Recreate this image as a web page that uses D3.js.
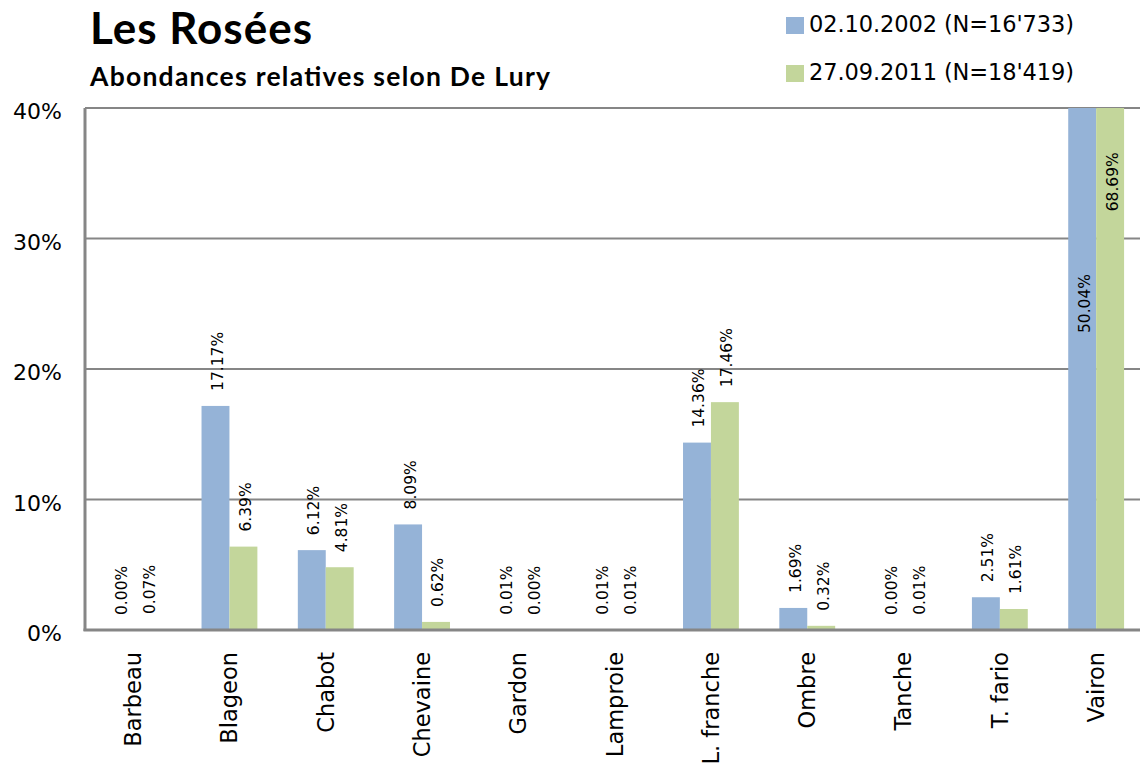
<!DOCTYPE html>
<html><head><meta charset="utf-8">
<script src="https://cdn.jsdelivr.net/npm/d3@7"></script>
<style>body{margin:0;background:#fff}svg{display:block}</style>
</head><body>
<svg id="c" width="1140" height="765"></svg>
<script>
const categories = ["Barbeau","Blageon","Chabot","Chevaine","Gardon","Lamproie","L. franche","Ombre","Tanche","T. fario","Vairon"];
const series2002 = [0.00,17.17,6.12,8.09,0.01,0.01,14.36,1.69,0.00,2.51,50.04];
const series2011 = [0.07,6.39,4.81,0.62,0.00,0.01,17.46,0.32,0.01,1.61,68.69];
const seriesNames = ["02.10.2002 (N=16'733)","27.09.2011 (N=18'419)"];
const yTicks = [0,10,20,30,40];
const title = "Les Rosées";
const subtitle = "Abondances relatives selon De Lury";

(function(){
const colors = ["#95B3D7","#C3D69B"];
const svg = d3.select("#c");
const mLeft = 85, mTop = 108, mBottom = 630, bandW = 96.3;
const mRight = mLeft + bandW*categories.length;

const x = d3.scaleBand().domain(categories).range([mLeft,mRight]).paddingInner(0.42).paddingOuter(0.21);
const xs = d3.scaleBand().domain([0,1]).range([0,x.bandwidth()]);
const y = d3.scaleLinear().domain([0,40]).range([mBottom,mTop]);

// gridlines
svg.append("g").selectAll("line").data(yTicks.filter(t=>t>0)).join("line")
  .attr("x1",mLeft).attr("x2",1140).attr("y1",d=>y(d)).attr("y2",d=>y(d))
  .attr("stroke","#868686").attr("stroke-width",2);

// y tick labels
svg.append("g").selectAll("text").data(yTicks).join("text")
  .attr("x",62).attr("y",d=>y(d)).attr("dy","0.5em")
  .attr("text-anchor","end").attr("font-family","DejaVu Sans").attr("font-size",22)
  .attr("fill","#000").text(d=>d+"%");

const data = categories.map((c,i)=>({c, vals:[series2002[i],series2011[i]]}));

const groups = svg.append("g").selectAll("g").data(data).join("g")
  .attr("transform",d=>`translate(${x(d.c)},0)`);
groups.selectAll("rect").data(d=>d.vals.map((v,k)=>({v,k}))).join("rect")
  .attr("x",d=>xs(d.k)).attr("width",xs.bandwidth())
  .attr("y",d=>y(Math.min(d.v,40))).attr("height",d=>mBottom - y(Math.min(d.v,40)))
  .attr("fill",(d)=>colors[d.k]);

// value labels
groups.selectAll("text").data(d=>d.vals.map((v,k)=>({v,k}))).join("text")
  .attr("transform",d=>{
    const cx = xs(d.k)+xs.bandwidth()/2 + 2;
    if (d.v > 40) return `translate(${cx},${y(d.v/2)}) rotate(-90)`;
    return `translate(${cx},${y(d.v)-15}) rotate(-90)`;
  })
  .attr("text-anchor",d=>d.v>40?"middle":"start")
  .attr("dy","0.35em")
  .attr("font-family","DejaVu Sans").attr("font-size",15.5).attr("fill","#000")
  .text(d=>d.v.toFixed(2)+"%");

// axes lines
svg.append("line").attr("x1",mLeft).attr("x2",mLeft).attr("y1",mTop).attr("y2",mBottom+1)
  .attr("stroke","#868686").attr("stroke-width",3);
svg.append("line").attr("x1",mLeft-1.5).attr("x2",1140).attr("y1",mBottom).attr("y2",mBottom)
  .attr("stroke","#868686").attr("stroke-width",3);

// category labels
svg.append("g").selectAll("text").data(categories).join("text")
  .attr("transform",d=>`translate(${x(d)+x.bandwidth()/2},652) rotate(-90)`)
  .attr("text-anchor","end").attr("dy","0.35em")
  .attr("font-family","DejaVu Sans").attr("font-size",22.5).attr("fill","#000")
  .text(d=>d);

// title
svg.append("text").attr("x",90).attr("y",44).attr("font-family","Lato").attr("font-weight","bold")
  .attr("font-size",44).attr("fill","#000")
  .attr("textLength",222).attr("lengthAdjust","spacing").text(title);
svg.append("text").attr("x",90).attr("y",86).attr("font-family","Lato").attr("font-weight","bold")
  .attr("font-size",26.5).attr("fill","#000")
  .attr("textLength",460).attr("lengthAdjust","spacing").text(subtitle);

// legend
const lg = svg.append("g").selectAll("g").data(seriesNames).join("g")
  .attr("transform",(d,i)=>`translate(786,${17+i*48})`);
lg.append("rect").attr("width",18).attr("height",17).attr("fill",(d,i)=>colors[i]);
lg.append("text").attr("x",23).attr("y",15).attr("font-family","DejaVu Sans").attr("font-size",22.5)
  .attr("fill","#000").attr("textLength",265).attr("lengthAdjust","spacing").text(d=>d);
})();
</script>
</body></html>
